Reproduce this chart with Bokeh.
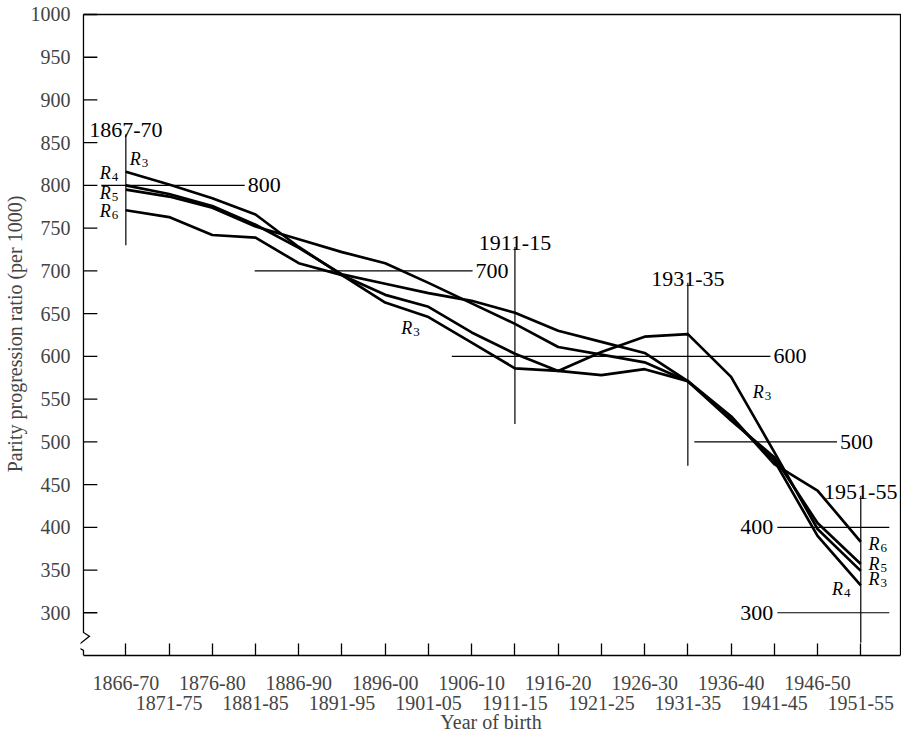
from bokeh.plotting import figure
from bokeh.models import Range1d, FixedTicker, LinearAxis, ColumnDataSource
from bokeh.core.properties import value
from bokeh.embed import file_html
from bokeh.resources import INLINE

# ---------------- data ----------------
cohorts = ["1866-70", "1871-75", "1876-80", "1881-85", "1886-90", "1891-95",
           "1896-00", "1901-05", "1906-10", "1911-15", "1916-20", "1921-25",
           "1926-30", "1931-35", "1936-40", "1941-45", "1946-50", "1951-55"]
r3 = [816, 801, 785, 766, 728, 695, 663, 646, 616, 586, 583, 605, 623, 626, 576, 488, 398, 349]
r4 = [800, 790, 776, 754, 727, 696, 685, 674, 665, 651, 630, 617, 604, 571, 527, 478, 390, 332]
r5 = [795, 787, 774, 752, 737, 722, 709, 686, 662, 638, 611, 602, 593, 571, 525, 482, 405, 357]
r6 = [771, 763, 742, 739, 709, 695, 672, 658, 628, 603, 583, 578, 585, 571, 530, 474, 443, 383]
y_ticks = [300, 350, 400, 450, 500, 550, 600, 650, 700, 750, 800, 850, 900, 950, 1000]

# reference marks (horizontal levels and cohort verticals)
ref_levels = [800, 700, 600, 500, 400, 300]
ref_level_labels = ["800", "700", "600", "500", "400", "300"]
ref_cohort_labels = ["1867-70", "1911-15", "1931-35", "1951-55"]
ref_cohort_at = ["1866-70", "1911-15", "1931-35", "1951-55"]

# series label anchors
r_lab_digit = ["3", "4", "5", "6", "3", "3", "6", "5", "3", "4"]
r_lab_x = [0.09, -0.12, -0.12, -0.12, 6.37, 14.5, 17.18, 17.18, 17.18, 16.82]
r_lab_y = [831, 815, 791, 770, 633, 558, 380, 357, 340, 328]
r_lab_side = ["l", "r", "r", "r", "l", "l", "l", "l", "l", "r"]

# ---------------- layout constants ----------------
h_x0 = [-0.57, 2.98, 7.54, 13.15, 15.07, 15.07]
h_x1 = [2.75, 8.02, 14.91, 16.45, 17.66, 17.66]
h_side = ["r", "r", "r", "r", "l", "l"]
v_bottom = [730, 521, 472, 265]
v_top = [860, 728, 686, 437]

FONT = "Liberation Serif"
W, H = 901, 735
BL, BR, BT, BB = 73, 0, 12, 79
FW = W - BL - BR           # frame width in px
FH = H - BT - BB           # frame height in px
KX = 43.6                  # px per category step
XA = -0.98                 # position of the drawn left axis
XS = XA - 3 / KX
XE = XS + FW / KX
XR = XS + (FW - 1) / KX    # drawn right frame line
Y0, Y1 = 250, 1000
KY = (FH - 2) / (Y1 - Y0)
YE = Y1 + 2 / KY

p = figure(width=W, height=H, x_range=Range1d(XS, XE), y_range=Range1d(Y0, YE),
           x_axis_type=None, y_axis_type=None, output_backend="svg",
           toolbar_location=None, min_border_left=BL, min_border_right=BR,
           min_border_top=BT, min_border_bottom=BB)
p.outline_line_color = None
p.background_fill_color = "white"
p.border_fill_color = "white"

# y axis (labels from bokeh axis; axis line and ticks drawn at the box edge)
yax = LinearAxis(ticker=FixedTicker(ticks=y_ticks),
                 axis_label="Parity progression ratio (per 1000)")
yax.axis_line_color = None
yax.major_tick_line_color = None
yax.minor_tick_line_color = None
yax.major_tick_in = 0
yax.major_tick_out = 0
yax.major_label_text_font = FONT
yax.major_label_text_font_size = "20px"
yax.major_label_standoff = 10
yax.axis_label_text_font = FONT
yax.axis_label_text_font_size = "20px"
yax.axis_label_text_font_style = "normal"
yax.axis_label_standoff = 2
p.add_layout(yax, "left")

idx = list(range(len(cohorts)))
odd = [i for i in idx if i % 2 == 1]

xax1 = LinearAxis(ticker=FixedTicker(ticks=idx), bounds=(XA, XR),
                  major_label_overrides={i: (cohorts[i] if i % 2 == 0 else "") for i in idx})
xax1.major_tick_in = 12
xax1.major_tick_out = 0
xax1.minor_tick_line_color = None
xax1.axis_line_width = 1.3
xax1.major_tick_line_width = 1.3
xax1.major_label_text_font = FONT
xax1.major_label_text_font_size = "20px"
xax1.major_label_standoff = 20
p.add_layout(xax1, "below")

xax2 = LinearAxis(ticker=FixedTicker(ticks=odd),
                  major_label_overrides={i: cohorts[i] for i in odd},
                  axis_label="Year of birth")
xax2.axis_line_color = None
xax2.major_tick_line_color = None
xax2.minor_tick_line_color = None
xax2.major_tick_in = 0
xax2.major_tick_out = 0
xax2.major_label_text_font = FONT
xax2.major_label_text_font_size = "20px"
xax2.major_label_standoff = 3
xax2.axis_label_text_font = FONT
xax2.axis_label_text_font_size = "20px"
xax2.axis_label_text_font_style = "normal"
xax2.axis_label_standoff = -2
p.add_layout(xax2, "below")

# box: left axis line with break, ticks, top and right lines
px = 1 / KX
left_x = [XA, XA, XA + 6 * px, XA - 7 * px, XA, XA]
left_y = [Y1, 277, 272.5, 260.5, 256, Y0]
p.line(left_x, left_y, line_color="black", line_width=1.3, line_join="miter")
p.segment(x0=[XA] * len(y_ticks), y0=y_ticks, x1=[XA + 14 * px] * len(y_ticks), y1=y_ticks,
          line_color="black", line_width=1.3)
p.line([XA, XR, XR], [Y1, Y1, Y0], line_color="black", line_width=1.3)

# reference marks
hs = ColumnDataSource(dict(x0=h_x0, x1=h_x1, y=ref_levels, lab=ref_level_labels))
p.segment(x0="x0", y0="y", x1="x1", y1="y", source=hs, line_color="black", line_width=1.2)
vpos = [cohorts.index(c) for c in ref_cohort_at]
vs = ColumnDataSource(dict(x=vpos, y0=v_bottom, y1=v_top, lab=ref_cohort_labels))
p.segment(x0="x", y0="y0", x1="x", y1="y1", source=vs, line_color="black", line_width=1.2)

rt = [i for i, s in enumerate(h_side) if s == "r"]
lt = [i for i, s in enumerate(h_side) if s == "l"]
p.text(x=[h_x1[i] for i in rt], y=[ref_levels[i] for i in rt], text=[ref_level_labels[i] for i in rt],
       text_align="left", text_baseline="middle", x_offset=3,
       text_font=value(FONT), text_font_size="22px", text_color="black")
p.text(x=[h_x0[i] for i in lt], y=[ref_levels[i] for i in lt], text=[ref_level_labels[i] for i in lt],
       text_align="right", text_baseline="middle", x_offset=-4,
       text_font=value(FONT), text_font_size="22px", text_color="black")
p.text(x="x", y="y1", text="lab", source=vs, text_align="center", text_baseline="alphabetic",
       y_offset=-4, text_font=value(FONT), text_font_size="22px", text_color="black")

# series lines
for vals in (r3, r4, r5, r6):
    p.line(idx, vals, line_color="black", line_width=2.7, line_join="round")

# series labels: italic R with subscript digit
r_off = [0 if s == "l" else -21 for s in r_lab_side]
d_off = [12 if s == "l" else -9 for s in r_lab_side]
p.text(x=r_lab_x, y=r_lab_y, text=["R"] * len(r_lab_x), x_offset=r_off,
       text_align="left", text_baseline="middle", text_font=value(FONT),
       text_font_style="italic", text_font_size="18px", text_color="black")
p.text(x=r_lab_x, y=r_lab_y, text=r_lab_digit, x_offset=d_off, y_offset=4,
       text_align="left", text_baseline="middle", text_font=value(FONT),
       text_font_size="13px", text_color="black")

open("out.html", "w").write(file_html(p, INLINE))
